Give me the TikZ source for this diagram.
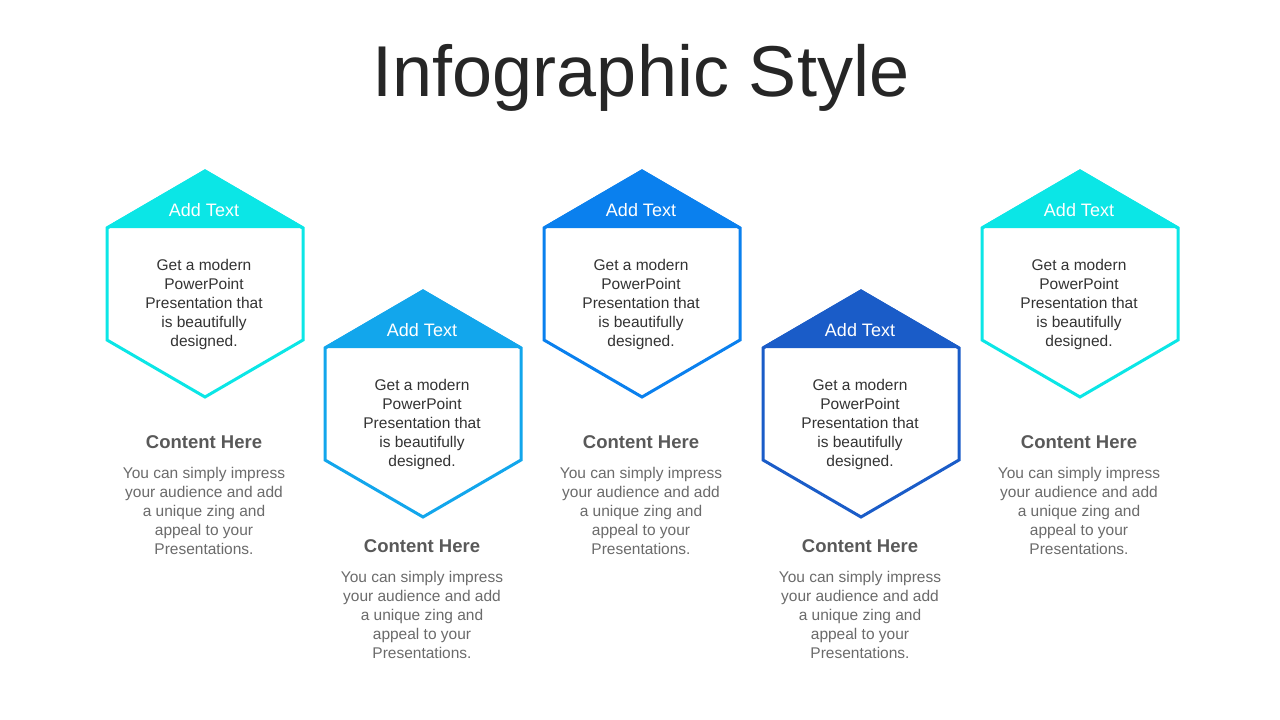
\documentclass[tikz,border=0pt]{standalone}
\usepackage{fontspec}
\setmainfont{Liberation Sans}
\definecolor{cyanA}{HTML}{0BE6E6}
\definecolor{blueB}{HTML}{12A6EC}
\definecolor{blueC}{HTML}{0A80EE}
\definecolor{blueD}{HTML}{1A5CC8}
\definecolor{titlegray}{HTML}{262626}
\definecolor{bodygray}{HTML}{333333}
\definecolor{headgray}{HTML}{595959}
\definecolor{descgray}{HTML}{6B6B6B}
\tikzset{
  hexline/.style={line width=3pt, line join=miter, fill=white},
  captext/.style={text=white, font=\fontsize{18}{21}\selectfont, inner sep=0pt},
  bodytext/.style={text=bodygray, font=\fontsize{15.5}{19}\selectfont, align=center, inner sep=0pt},
  headtext/.style={text=headgray, font=\fontsize{18.5}{22}\selectfont\bfseries, inner sep=0pt},
  desctext/.style={text=descgray, font=\fontsize{15.5}{19}\selectfont, align=center, inner sep=0pt},
}
\begin{document}
\begin{tikzpicture}[x=1pt,y=-1pt]
\useasboundingbox[fill=white] (0,0) rectangle (1280,720);
\node[text=titlegray, font=\fontsize{72}{80}\selectfont, inner sep=0pt] (title) at (641,78) {Infographic Style};
\foreach \i/\cx/\ty/\hy/\dy/\col in {1/205/171/442/511/cyanA, 2/423/291/546/615/blueB, 3/642/171/442/511/blueC, 4/861/291/546/615/blueD, 5/1080/171/442/511/cyanA}{
  \coordinate (t\i) at (\cx,\ty);
  \coordinate (ul\i) at (\cx-98,\ty+57);
  \coordinate (ur\i) at (\cx+98,\ty+57);
  \coordinate (ll\i) at (\cx-98,\ty+169);
  \coordinate (lr\i) at (\cx+98,\ty+169);
  \coordinate (b\i) at (\cx,\ty+226);
  \draw[hexline, draw=\col] (t\i) -- (ur\i) -- (lr\i) -- (b\i) -- (ll\i) -- (ul\i) -- cycle;
  \fill[\col] (t\i) -- (ur\i) -- (ul\i) -- cycle;
  \draw[line width=3pt, \col, line join=miter] (ul\i) -- (t\i) -- (ur\i);
  \node[captext] (cap\i) at (\cx-1,\ty+39) {Add Text};
  \node[bodytext] (body\i) at (\cx-1,\ty+133) {Get a modern\\PowerPoint\\Presentation that\\is beautifully\\designed.};
  \node[headtext] (head\i) at (\cx-1,\hy) {Content Here};
  \node[desctext] (desc\i) at (\cx-1,\dy) {You can simply impress\\your audience and add\\a unique zing and\\appeal to your\\Presentations.};
}
\end{tikzpicture}
\end{document}
